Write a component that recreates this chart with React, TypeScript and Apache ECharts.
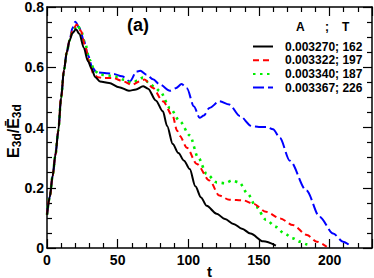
import React, { useEffect, useRef } from "react";
import * as echarts from "echarts";

const seriesNames = ["0.003270; 162", "0.003322; 197", "0.003340; 187", "0.003367; 226"];
const seriesColors = ["#000000", "#ff0000", "#00ee00", "#0000ff"];

const rise = [
  [0, 0.11], [2, 0.17], [4, 0.24], [6, 0.31], [8, 0.39], [10, 0.5], [12, 0.59], [14, 0.65], [16, 0.69],
];

const blackData = [
  ...rise, [18, 0.713], [20.5, 0.726], [23, 0.71], [26, 0.665], [29, 0.62], [31.6, 0.595], [34, 0.568],
  [37.5, 0.553], [44, 0.548], [51, 0.534], [58, 0.522], [63, 0.526], [68, 0.537], [71.5, 0.529],
  [77, 0.49], [82, 0.454], [85, 0.405], [89, 0.345], [93, 0.315], [97, 0.29], [101, 0.262],
  [105, 0.205], [109, 0.168], [113, 0.14], [120, 0.114], [126, 0.096], [132, 0.08], [138, 0.064],
  [144, 0.048], [153, 0.022], [162, 0.008],
];

const redData = [
  ...rise, [18, 0.72], [21, 0.742], [24, 0.72], [27, 0.67], [30, 0.615], [32.7, 0.58], [36, 0.567],
  [40, 0.564], [47, 0.564], [54, 0.553], [60, 0.542], [65.8, 0.553], [69, 0.559], [75, 0.531],
  [82, 0.487], [89, 0.438], [92, 0.39], [94, 0.372], [99, 0.333], [106, 0.279], [115, 0.224],
  [122, 0.174], [129, 0.16], [139, 0.158], [146, 0.147], [155, 0.12], [165, 0.098], [174, 0.076],
  [184, 0.043], [191, 0.021], [198, 0.004],
];

const greenData = [
  ...rise, [18, 0.72], [21.5, 0.74], [24, 0.722], [27, 0.68], [30, 0.625], [34, 0.586], [38, 0.575],
  [45, 0.572], [50, 0.568], [54, 0.559], [60, 0.548], [64, 0.555], [68, 0.566], [71.6, 0.551],
  [76, 0.535], [80, 0.52], [87, 0.465], [94, 0.421], [101, 0.374], [107, 0.3], [113, 0.246],
  [120, 0.218], [126, 0.215], [131, 0.224], [136, 0.218], [142, 0.18], [148, 0.136], [155, 0.094],
  [162, 0.07], [168, 0.048], [174, 0.032], [179, 0.021], [184, 0.012], [187, 0.006],
];

const blueData = [
  ...rise, [18, 0.73], [20, 0.751], [23, 0.73], [26, 0.69], [29, 0.64], [32, 0.6], [35, 0.583],
  [42, 0.58], [47, 0.578], [53, 0.57], [58.7, 0.553], [63.4, 0.586], [66, 0.588], [70.5, 0.575],
  [75, 0.56], [80, 0.542], [87, 0.522], [91, 0.53], [95.3, 0.544], [99, 0.53], [104, 0.47],
  [108, 0.432], [111, 0.44], [115, 0.465], [122, 0.487], [129, 0.476], [136.5, 0.438],
  [144.8, 0.405], [150, 0.402], [155.4, 0.402], [160, 0.394], [164.8, 0.366], [171.8, 0.29],
  [183.6, 0.191], [193, 0.103], [202.5, 0.048], [209.5, 0.021], [215.5, 0.004],
];

const allData = [blackData, redData, greenData, blueData];
const dashTypes: any[] = ["solid", [6, 4], [2.5, 4.5], [11, 4]];

const xTicks = { min: 0, max: 230, interval: 50 };
const yTicks = { min: 0, max: 0.8, interval: 0.2 };

const FONT = "Liberation Sans";

export default function App() {
  const ref = useRef<HTMLDivElement>(null);
  useEffect(() => {
    const chart = echarts.init(ref.current!, null, { renderer: "svg" });
    const axisCommon = {
      axisLine: { show: true, onZero: false, lineStyle: { color: "#000", width: 1.5 } },
      axisTick: { show: true, inside: true, length: 9, lineStyle: { color: "#000", width: 1.2 } },
      minorTick: { show: true, length: 5, lineStyle: { color: "#000", width: 1.2 } },
      splitLine: { show: false },
    };
    const xBase = { type: "value", ...xTicks, ...axisCommon, minorTick: { ...axisCommon.minorTick, splitNumber: 5 } };
    const yBase = { type: "value", ...yTicks, ...axisCommon, minorTick: { ...axisCommon.minorTick, splitNumber: 4 } };
    chart.setOption({
      animation: false,
      textStyle: { fontFamily: FONT },
      grid: { left: 47, right: 2, top: 7, bottom: 30, containLabel: false, outerBoundsMode: "none" },
      xAxis: [
        {
          ...xBase,
          position: "bottom",
          name: "t",
          nameLocation: "middle",
          nameGap: 17,
          nameMoveOverlap: false,
          nameTextStyle: { fontFamily: FONT, fontWeight: "bold", fontSize: 15, lineHeight: 12, color: "#000" },
          axisLabel: {
            show: true, margin: 5, showMaxLabel: false, color: "#000", fontFamily: FONT, fontWeight: "bold", fontSize: 14,
          },
        },
        { ...xBase, position: "top", axisLabel: { show: false } },
      ],
      yAxis: [
        {
          ...yBase,
          position: "left",
          axisLabel: {
            show: true, margin: 3, color: "#000", fontFamily: FONT, fontWeight: "bold", fontSize: 14, lineHeight: 12,
            formatter: (v: number) => (v === 0 ? "0" : v.toFixed(1)),
          },
        },
        { ...yBase, position: "right", axisLabel: { show: false } },
      ],
      legend: {
        show: true,
        orient: "vertical",
        left: 247,
        top: 35.5,
        itemWidth: 20,
        itemHeight: 12,
        itemGap: 1.7,
        data: seriesNames,
        itemStyle: { opacity: 0 },
        textStyle: { fontFamily: FONT, fontWeight: "bold", fontSize: 12, color: "#000", lineHeight: 12, padding: [0, 0, 0, 7] },
      },
      graphic: [
        { type: "text", left: 296, top: 21, style: { text: "A", fontFamily: FONT, fontWeight: "bold", fontSize: 12, fill: "#000" } },
        { type: "text", left: 325, top: 21, style: { text: ";", fontFamily: FONT, fontWeight: "bold", fontSize: 12, fill: "#000" } },
        { type: "text", left: 342, top: 21, style: { text: "T", fontFamily: FONT, fontWeight: "bold", fontSize: 12, fill: "#000" } },
        { type: "text", left: 127, top: 16, style: { text: "(a)", fontFamily: FONT, fontWeight: "bold", fontSize: 18, fill: "#000" } },
        {
          type: "text",
          x: 13,
          y: 131,
          rotation: Math.PI / 2,
          style: {
            text: "{e|E}{s|3d}{e|/}{e|Ē}{s|3d}",
            align: "center",
            verticalAlign: "middle",
            fill: "#000",
            rich: {
              e: { fontFamily: FONT, fontWeight: "bold", fontSize: 16, fill: "#000", lineHeight: 19 },
              s: { fontFamily: FONT, fontWeight: "bold", fontSize: 12, fill: "#000", lineHeight: 19, padding: [8, 0, 0, 0] },
            },
          },
        },
      ],
      series: allData.map((d, i) => ({
        name: seriesNames[i],
        type: "line",
        data: d,
        symbol: "none",
        showSymbol: false,
        smooth: 0.3,
        smoothMonotone: "x",
        clip: true,
        lineStyle: { color: seriesColors[i], width: i === 2 ? 2.6 : 2, type: dashTypes[i] },
        itemStyle: { color: seriesColors[i] },
        z: 4 - i,
      })),
    });
    return () => chart.dispose();
  }, []);
  return <div ref={ref} style={{ width: 374, height: 278, position: "absolute", left: 0, top: 0 }} />;
}
